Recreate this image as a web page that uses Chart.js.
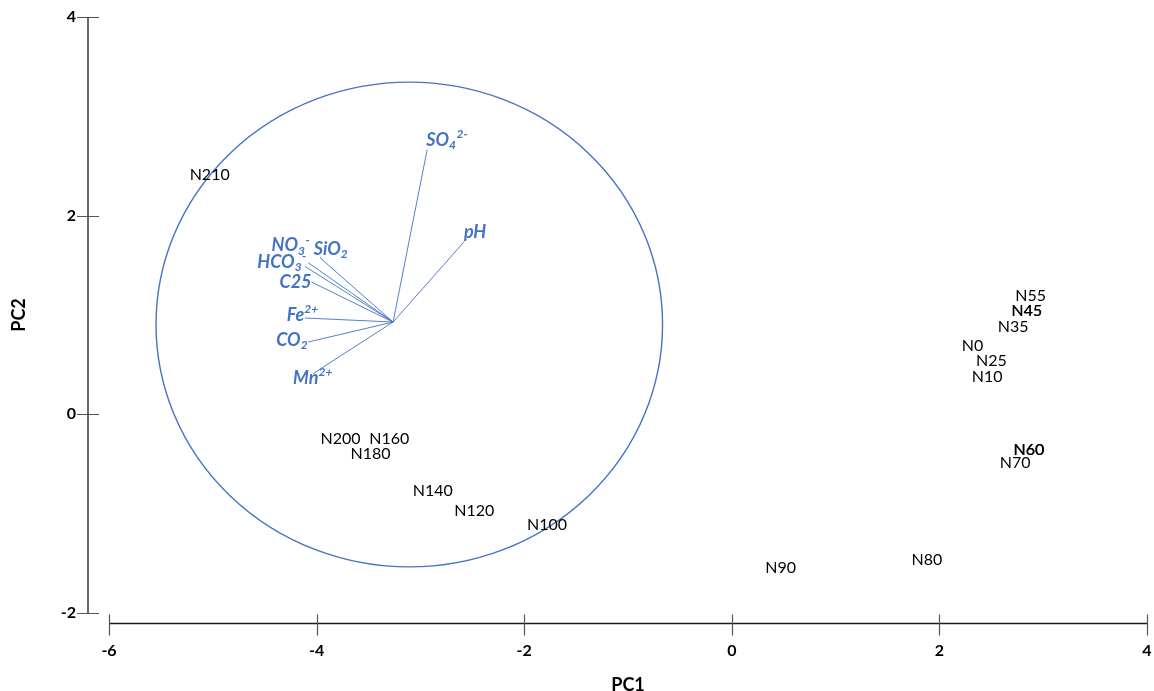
<!DOCTYPE html>
<html>
<head>
<meta charset="utf-8">
<script src="https://cdn.jsdelivr.net/npm/chart.js@4.4.1/dist/chart.umd.min.js"></script>
<style>
  html, body { margin: 0; padding: 0; background: #ffffff; }
  #wrap { width: 1154px; height: 691px; }
</style>
</head>
<body>
<div id="wrap"><canvas id="c" width="1154" height="691"></canvas></div>
<script>
// ---- Data ----
const sampleNames = ['N210','N200','N160','N180','N140','N120','N100','N90','N80','N55','N45','N35','N0','N25','N10','N60','N70'];
const sampleX = [-5.03, -3.77, -3.30, -3.48, -2.88, -2.48, -1.78, 0.47, 1.88, 2.88, 2.84, 2.71, 2.32, 2.50, 2.46, 2.86, 2.73];
const sampleY = [2.41, -0.25, -0.25, -0.40, -0.77, -0.97, -1.11, -1.55, -1.46, 1.19, 1.04, 0.88, 0.69, 0.54, 0.38, -0.36, -0.49];
const overlappedSamples = ['N45', 'N60'];

const vectorNames = ['SO_{4}^{2-}', 'pH', 'NO_{3}^{-}', 'SiO_{2}', 'HCO_{3}^{-}', 'C25', 'Fe^{2+}', 'CO_{2}', 'Mn^{2+}'];
const vectorX = [-2.935, -2.581, -4.082, -3.969, -4.114, -4.049, -4.114, -4.082, -4.034];
const vectorY = [2.665, 1.735, 1.527, 1.578, 1.490, 1.332, 0.970, 0.728, 0.410];
const vectorOrigin = [-3.263, 0.929];

const circleCenter = [-3.107, 0.904];
const circleRadius = 2.44;

const xTicks = [-6, -4, -2, 0, 2, 4];
const yTicks = [-2, 0, 2, 4];

// ---- Styles (label placement relative to vector tips, in pixels) ----
const BLUE = '#4472C4';
const vectorLabelPlacement = [
  {align: 'left',  dx: -1,  dy: -9},
  {align: 'left',  dx: 0,   dy: -10},
  {align: 'right', dx: 2,   dy: -17},
  {align: 'left',  dx: -6,  dy: -8},
  {align: 'right', dx: 2,   dy: -4},
  {align: 'right', dx: 0,   dy: 0},
  {align: 'left',  dx: -18, dy: -3},
  {align: 'right', dx: 0,   dy: -2},
  {align: 'left',  dx: -20, dy: 5}
];
const FAMILY = 'Lato, "Open Sans", "Liberation Sans", sans-serif';

Chart.defaults.font.family = FAMILY;

// ---- Datasets ----
const datasets = [{
  label: 'samples',
  data: sampleX.map((x, i) => ({x: x, y: sampleY[i]})),
  pointRadius: 0,
  showLine: false
}];
vectorNames.forEach((n, i) => {
  datasets.push({
    label: n,
    data: [{x: vectorOrigin[0], y: vectorOrigin[1]}, {x: vectorX[i], y: vectorY[i]}],
    showLine: true,
    borderColor: BLUE,
    borderWidth: 0.9,
    pointRadius: 0,
    fill: false
  });
});

function parseRich(s) {
  const re = /([_^])\{([^}]*)\}|([^_^]+)/g;
  const out = [];
  let m;
  while ((m = re.exec(s)) !== null) {
    if (m[3]) out.push({t: m[3], k: 'n'});
    else out.push({t: m[2], k: m[1] === '_' ? 'sub' : 'sup'});
  }
  return out;
}

const decorPlugin = {
  id: 'decor',
  beforeDatasetsDraw(chart) {
    const {ctx, scales: {x, y}} = chart;
    ctx.save();
    ctx.strokeStyle = BLUE;
    ctx.lineWidth = 1.4;
    ctx.beginPath();
    const cx = x.getPixelForValue(circleCenter[0]);
    const cy = y.getPixelForValue(circleCenter[1]);
    const rx = Math.abs(x.getPixelForValue(circleCenter[0] + circleRadius) - cx);
    const ry = Math.abs(y.getPixelForValue(circleCenter[1] + circleRadius) - cy);
    ctx.ellipse(cx, cy, rx, ry, 0, 0, Math.PI * 2);
    ctx.stroke();
    ctx.restore();
  },
  afterDraw(chart) {
    const {ctx, scales: {x, y}, chartArea} = chart;
    ctx.save();
    const axX = chartArea.left - 21;
    const axY = chartArea.bottom + 10.5;
    ctx.strokeStyle = '#1a1a1a';
    ctx.lineWidth = 1.3;
    ctx.beginPath();
    ctx.moveTo(axX, y.getPixelForValue(yTicks[yTicks.length - 1]));
    ctx.lineTo(axX, y.getPixelForValue(yTicks[0]));
    ctx.moveTo(x.getPixelForValue(xTicks[0]), axY);
    ctx.lineTo(x.getPixelForValue(xTicks[xTicks.length - 1]), axY);
    ctx.stroke();
    ctx.strokeStyle = '#555555';
    ctx.lineWidth = 1.2;
    ctx.beginPath();
    yTicks.forEach(v => {
      const py = Math.round(y.getPixelForValue(v)) + 0.5;
      ctx.moveTo(axX - 11, py); ctx.lineTo(axX + 11, py);
    });
    xTicks.forEach(v => {
      const px = Math.round(x.getPixelForValue(v)) + 0.5;
      ctx.moveTo(px, axY - 9); ctx.lineTo(px, axY + 12);
    });
    ctx.stroke();

    // sample labels
    const meta = chart.getDatasetMeta(0);
    ctx.fillStyle = '#000000';
    ctx.font = '16px ' + FAMILY;
    ctx.textAlign = 'center';
    ctx.textBaseline = 'middle';
    meta.data.forEach((pt, i) => {
      ctx.fillText(sampleNames[i], pt.x, pt.y);
      if (overlappedSamples.includes(sampleNames[i])) {
        ctx.fillText(sampleNames[i], pt.x + 0.4, pt.y);
      }
    });

    // vector labels
    const mainFont = 'italic bold 18px ' + FAMILY;
    const smallFont = 'italic bold 12px ' + FAMILY;
    ctx.fillStyle = BLUE;
    ctx.textAlign = 'left';
    vectorNames.forEach((n, i) => {
      const tip = chart.getDatasetMeta(i + 1).data[1];
      const pl = vectorLabelPlacement[i];
      const parts = parseRich(n);
      let total = 0;
      parts.forEach(p => {
        ctx.font = p.k === 'n' ? mainFont : smallFont;
        p.w = ctx.measureText(p.t).width + (p.k === 'n' ? 0 : 0.5);
        total += p.w;
      });
      let sx = tip.x + pl.dx - (pl.align === 'right' ? total : 0);
      const sy = tip.y + pl.dy;
      parts.forEach(p => {
        ctx.font = p.k === 'n' ? mainFont : smallFont;
        const oy = p.k === 'sub' ? 5 : (p.k === 'sup' ? -6 : 0);
        ctx.fillText(p.t, sx, sy + oy);
        sx += p.w;
      });
    });
    ctx.restore();
  }
};

new Chart(document.getElementById('c'), {
  type: 'scatter',
  data: { datasets: datasets },
  options: {
    responsive: false,
    animation: false,
    devicePixelRatio: 1,
    events: [],
    layout: { padding: { top: 17, right: 7, left: 0, bottom: 0 } },
    plugins: { legend: { display: false }, tooltip: { enabled: false } },
    scales: {
      x: {
        type: 'linear', position: 'bottom', min: -6, max: 4,
        afterBuildTicks: s => { s.ticks = xTicks.map(v => ({value: v})); },
        afterFit: s => { s.height = 78; },
        grid: { display: false, drawTicks: true, tickLength: 28 },
        border: { display: false },
        ticks: { color: '#000', font: { size: 16, weight: 'bold' }, padding: 0, maxRotation: 0 },
        title: { display: true, text: 'PC1', color: '#000', font: { size: 18, weight: 'bold' }, padding: { top: 0, bottom: -5 } }
      },
      y: {
        type: 'linear', position: 'left', min: -2, max: 4,
        afterBuildTicks: s => { s.ticks = yTicks.map(v => ({value: v})); },
        afterFit: s => { s.width = 109; },
        grid: { display: false, drawTicks: true, tickLength: 33 },
        border: { display: false },
        ticks: { color: '#000', font: { size: 16, weight: 'bold' }, padding: 0 },
        title: { display: true, text: 'PC2', color: '#000', font: { size: 18, weight: 'bold' }, padding: { top: 8, bottom: 0 } }
      }
    }
  },
  plugins: [decorPlugin]
});
</script>
</body>
</html>
